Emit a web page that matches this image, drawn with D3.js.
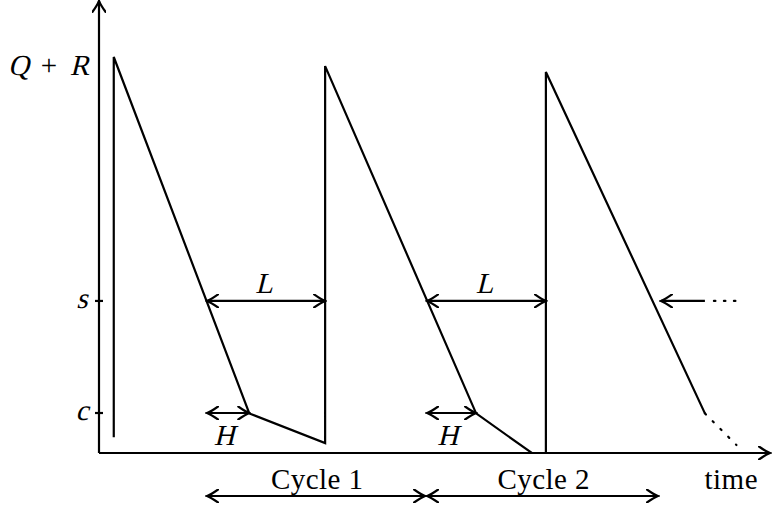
<!DOCTYPE html>
<html>
<head>
<meta charset="utf-8">
<script src="https://cdn.jsdelivr.net/npm/d3@7"></script>
</head>
<body style="margin:0; background:#fff">
<svg id="chart" width="773" height="508"></svg>
<script>
"use strict";

// Inventory path (time, level) : sawtooth with order-up-to Q+R
const invTime  = [2.2, 2.2, 22.4, 33.7, 33.7, 56.2, 64.5, 66.6, 66.6, 90.3];
const invLevel = [4, 100, 10, 2.5, 97.7, 10, 0, 0, 96.2, 10];

// dotted continuation after the last drawn point
const tailTime  = [90.3, 95.0];
const tailLevel = [10, 2];

// levels on the y axis
const levelNames  = ["s", "c"];
const levelValues = [38.4, 10.1];
const topLevel = 100;

// lead time L arrows (from crossing of s to order arrival)
const leadStart = [16.1, 48.9];
const leadEnd   = [33.7, 66.6];
// H arrows at level c
const hStart = [16.1, 48.9];
const hEnd   = [22.4, 56.2];
// cycles
const cycleNames = ["Cycle 1", "Cycle 2"];
const cycleStart = [16.1, 48.9];
const cycleEnd   = [48.6, 83.3];
// next lead time (only its start is seen)
const nextLead = [83.6, 90.3];

const FONT = "Liberation Serif";
const svg = d3.select("#chart");
const x = d3.scaleLinear().domain([0, 100]).range([99, 770]);
const y = d3.scaleLinear().domain([0, 100]).range([453, 57]);

// LaTeX-like open arrow head
const defs = svg.append("defs");
defs.append("marker")
  .attr("id", "head")
  .attr("viewBox", "-12 -7 14 14")
  .attr("refX", 0).attr("refY", 0)
  .attr("markerWidth", 14).attr("markerHeight", 14)
  .attr("markerUnits", "userSpaceOnUse")
  .attr("orient", "auto-start-reverse")
  .append("path")
  .attr("d", "M-11,-6.5 Q-4,-1.5 0,0 Q-4,1.5 -11,6.5")
  .attr("fill", "none")
  .attr("stroke", "#000")
  .attr("stroke-width", 2.2)
  .attr("stroke-linecap", "round");

const g = svg.append("g").attr("stroke", "#000").attr("stroke-width", 2.2).attr("fill", "none");

// axes
g.append("line").attr("x1", x(0)).attr("y1", y(0)).attr("x2", x(0)).attr("y2", y(114.2))
  .attr("marker-end", "url(#head)");
g.append("line").attr("x1", x(0)).attr("y1", y(0)).attr("x2", x(100)).attr("y2", y(0))
  .attr("marker-end", "url(#head)");

// level ticks
g.selectAll("line.tick").data(levelValues).enter().append("line")
  .attr("class", "tick")
  .attr("x1", x(0) - 4).attr("x2", x(0) + 4)
  .attr("y1", d => y(d)).attr("y2", d => y(d));

// inventory line
const line = d3.line().x(d => x(d[0])).y(d => y(d[1]));
g.append("path")
  .attr("d", line(d3.zip(invTime, invLevel)))
  .attr("stroke-linejoin", "miter");

g.append("path")
  .attr("d", line(d3.zip(tailTime, tailLevel)))
  .attr("stroke-dasharray", "1.5 9.5")
  .attr("stroke-linecap", "round");

// double arrows helper
function dblArrow(x1, x2, yy) {
  g.append("line")
    .attr("x1", x(x1)).attr("x2", x(x2))
    .attr("y1", yy).attr("y2", yy)
    .attr("marker-start", "url(#head)")
    .attr("marker-end", "url(#head)");
}

leadStart.forEach((d, i) => dblArrow(d, leadEnd[i], y(levelValues[0])));
hStart.forEach((d, i) => dblArrow(d, hEnd[i], y(levelValues[1])));
cycleStart.forEach((d, i) => dblArrow(d, cycleEnd[i], 496));

// next order: single arrow pointing at the last slope
g.append("line")
  .attr("x1", x(nextLead[1])).attr("x2", x(nextLead[0]) + 1)
  .attr("y1", y(levelValues[0])).attr("y2", y(levelValues[0]))
  .attr("marker-end", "url(#head)");
g.append("line")
  .attr("x1", x(nextLead[1]) + 9).attr("x2", x(96))
  .attr("y1", y(levelValues[0])).attr("y2", y(levelValues[0]))
  .attr("stroke-dasharray", "1.5 8.5")
  .attr("stroke-linecap", "round");

// labels (math symbols are slanted serif, no serif italic face installed)
const lab = svg.append("g");
function mathText(px, py, str, anchor) {
  return lab.append("text")
    .attr("transform", `translate(${px},${py}) skewX(-14)`)
    .attr("font-family", FONT).attr("font-size", 29)
    .attr("text-anchor", anchor || "middle")
    .text(str);
}
function plainText(px, py, str, len) {
  const t = lab.append("text")
    .attr("x", px).attr("y", py)
    .attr("font-family", FONT).attr("font-size", 29)
    .attr("text-anchor", "middle")
    .text(str);
  if (len) t.attr("textLength", len).attr("lengthAdjust", "spacing");
  return t;
}

const qrBase = y(topLevel) + 18;
mathText(8, qrBase, "Q", "start");
plainText(49, qrBase, "+");
mathText(89, qrBase, "R", "end");

levelNames.forEach((d, i) => mathText(82, y(levelValues[i]) + 7, d));

leadStart.forEach((d, i) => mathText((x(d) + x(leadEnd[i])) / 2 - 2, y(levelValues[0]) - 8, "L"));
hStart.forEach((d, i) => mathText((x(d) + x(hEnd[i])) / 2 - 4, y(levelValues[1]) + 32, "H"));

cycleNames.forEach((d, i) => plainText((x(cycleStart[i]) + x(cycleEnd[i])) / 2 + 1, 489, d, 92));
plainText(731, 489, "time", 53);
</script>
</body>
</html>
